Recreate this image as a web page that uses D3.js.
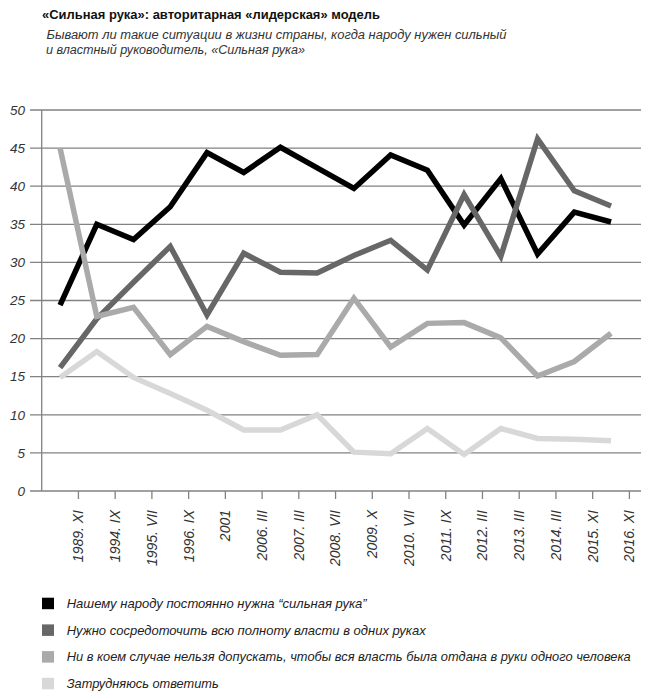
<!DOCTYPE html>
<html>
<head>
<meta charset="utf-8">
<script src="https://cdn.jsdelivr.net/npm/d3@7"></script>
<style>
  html, body { margin: 0; padding: 0; background: #fff; }
  svg { display: block; }
</style>
</head>
<body>
<script>
const categories = ["1989. XI", "1994. IX", "1995. VII", "1996. IX", "2001", "2006. III", "2007. III", "2008. VII", "2009. X", "2010. VII", "2011. IX", "2012. III", "2013. III", "2014. III", "2015. XI", "2016. XI"];
const strongHand = [24.4, 35.0, 33.0, 37.3, 44.4, 41.8, 45.1, 42.4, 39.7, 44.1, 42.1, 34.9, 41.0, 31.1, 36.6, 35.3];
const concentrate = [16.2, 22.6, 27.4, 32.1, 23.1, 31.2, 28.7, 28.6, 30.9, 32.9, 29.0, 38.9, 30.8, 46.2, 39.4, 37.4];
const never = [45.0, 22.9, 24.1, 17.9, 21.6, 19.6, 17.8, 17.9, 25.3, 18.9, 22.0, 22.1, 20.1, 15.1, 17.0, 20.7];
const hardToSay = [14.9, 18.3, 14.9, 12.8, 10.6, 8.0, 8.0, 10.0, 5.1, 4.9, 8.2, 4.8, 8.2, 6.9, 6.8, 6.6];
const yTicks = [0, 5, 10, 15, 20, 25, 30, 35, 40, 45, 50];
const seriesNames = ["Нашему народу постоянно нужна “сильная рука”", "Нужно сосредоточить всю полноту власти в одних руках", "Ни в коем случае нельзя допускать, чтобы вся власть была отдана в руки одного человека", "Затрудняюсь ответить"];
const seriesColors = ["#000000", "#676767", "#aaaaaa", "#d8d8d8"];
const titleText = "«Сильная рука»: авторитарная «лидерская» модель";
const subtitleLines = ["Бывают ли такие ситуации в жизни страны, когда народу нужен сильный", "и властный руководитель, «Сильная рука»"];

const seriesValues = [strongHand, concentrate, never, hardToSay];

const W = 661, H = 700;
const svg = d3.select("body").append("svg").attr("width", W).attr("height", H);
svg.append("rect").attr("width", W).attr("height", H).attr("fill", "#fff");

const italic = "'Liberation Sans', Arial, sans-serif";

// Title
svg.append("text").attr("x", 42).attr("y", 19)
  .attr("font-family", italic).attr("font-weight", "bold").attr("font-size", 12.5)
  .attr("fill", "#111").attr("textLength", 338).attr("lengthAdjust", "spacingAndGlyphs")
  .text(titleText);
const subW = [460, 259];
subtitleLines.forEach((t, i) => {
  svg.append("text").attr("x", i === 0 ? 46.5 : 46).attr("y", 38.5 + i * 15.5)
    .attr("font-family", italic).attr("font-style", "italic").attr("font-size", 12.5)
    .attr("fill", "#333").attr("textLength", subW[i]).attr("lengthAdjust", "spacingAndGlyphs")
    .text(t);
});

// Scales
const x = d3.scaleBand().domain(categories).range([41.7, 629.4]).padding(0);
const y = d3.scaleLinear().domain([0, 50]).range([491, 110]);

// Gridlines
const grid = svg.append("g");
grid.selectAll("line").data(yTicks).join("line")
  .attr("x1", 30).attr("x2", 641)
  .attr("y1", d => y(d)).attr("y2", d => y(d))
  .attr("stroke", "#828282").attr("stroke-width", 1.3);

// Y axis line
svg.append("line").attr("x1", 41.7).attr("x2", 41.7).attr("y1", y(50)).attr("y2", y(0))
  .attr("stroke", "#828282").attr("stroke-width", 1.3);

// Y labels
svg.append("g").selectAll("text").data(yTicks).join("text")
  .attr("x", 25).attr("y", d => y(d)).attr("dy", "0.35em")
  .attr("text-anchor", "end")
  .attr("font-family", italic).attr("font-style", "italic").attr("font-size", 13.5)
  .attr("fill", "#333")
  .text(d => d);

// X ticks at band ends
const xt = svg.append("g");
xt.selectAll("line").data(categories).join("line")
  .attr("x1", d => x(d) + x.bandwidth()).attr("x2", d => x(d) + x.bandwidth())
  .attr("y1", y(0)).attr("y2", y(0) + 8)
  .attr("stroke", "#828282").attr("stroke-width", 1.3);

// X labels (rotated)
svg.append("g").selectAll("text").data(categories).join("text")
  .attr("transform", d => `translate(${x(d) + x.bandwidth()},510) rotate(-90)`)
  .attr("text-anchor", "end").attr("dy", "0.35em")
  .attr("font-family", italic).attr("font-style", "italic").attr("font-size", 14)
  .attr("fill", "#333")
  .text(d => d);

// Lines
const line = d3.line()
  .x((d, i) => x(categories[i]) + x.bandwidth() / 2)
  .y(d => y(d));
seriesValues.forEach((vals, k) => {
  svg.append("path").datum(vals)
    .attr("d", line)
    .attr("fill", "none")
    .attr("stroke", seriesColors[k])
    .attr("stroke-width", 5.5)
    .attr("stroke-linejoin", "miter")
    .attr("stroke-miterlimit", 4);
});

// Legend
const legW = [300, 359, 564, 152];
const leg = svg.append("g");
seriesNames.forEach((name, k) => {
  const yy = 597.7 + k * 26.7;
  leg.append("rect").attr("x", 42).attr("y", yy).attr("width", 12).attr("height", 11.5)
    .attr("fill", seriesColors[k]);
  leg.append("text").attr("x", 66.7).attr("y", yy + 10.2)
    .attr("font-family", italic).attr("font-style", "italic").attr("font-size", 13)
    .attr("fill", "#222").attr("textLength", legW[k]).attr("lengthAdjust", "spacingAndGlyphs")
    .text(name);
});
</script>
</body>
</html>
